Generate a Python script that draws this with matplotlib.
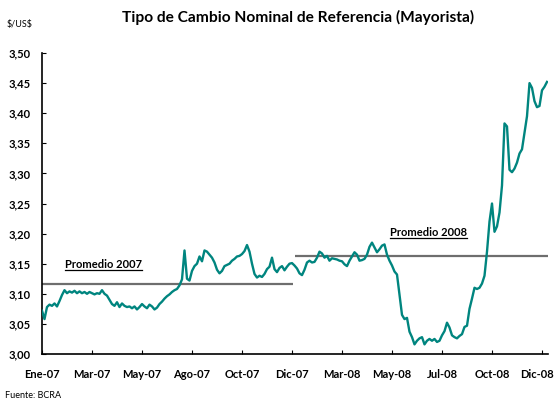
import matplotlib
matplotlib.use("Agg")
import matplotlib.pyplot as plt
import numpy as np
from matplotlib.lines import Line2D
from matplotlib.transforms import ScaledTranslation

plt.rcParams['font.family'] = ['Lato', 'DejaVu Sans']

# ---- data ----
tick_labels = ["Ene-07", "Mar-07", "May-07", "Ago-07", "Oct-07", "Dic-07",
               "Mar-08", "May-08", "Jul-08", "Oct-08", "Dic-08"]
points_per_tick = 20

rate = [
    # Ene-07 .. Mar-07
    3.072, 3.058, 3.078, 3.082, 3.080, 3.084, 3.079, 3.088, 3.098, 3.106,
    3.101, 3.104, 3.102, 3.105, 3.101, 3.104, 3.101, 3.103, 3.100, 3.103,
    # Mar-07 .. May-07
    3.101, 3.099, 3.101, 3.100, 3.106, 3.100, 3.097, 3.090, 3.083, 3.080,
    3.086, 3.078, 3.084, 3.080, 3.078, 3.079, 3.076, 3.079, 3.074, 3.078,
    # May-07 .. Ago-07
    3.083, 3.079, 3.076, 3.082, 3.079, 3.074, 3.077, 3.083, 3.087, 3.092,
    3.096, 3.099, 3.103, 3.106, 3.108, 3.114, 3.124, 3.172, 3.125, 3.122,
    # Ago-07 .. Oct-07
    3.138, 3.146, 3.150, 3.162, 3.154, 3.172, 3.170, 3.165, 3.160, 3.152,
    3.140, 3.134, 3.138, 3.146, 3.148, 3.150, 3.155, 3.158, 3.162, 3.163,
    # Oct-07 .. Dic-07
    3.166, 3.171, 3.181, 3.170, 3.150, 3.133, 3.127, 3.130, 3.128, 3.133,
    3.141, 3.145, 3.160, 3.141, 3.136, 3.143, 3.146, 3.139, 3.145, 3.150,
    # Dic-07 .. Mar-08
    3.151, 3.147, 3.142, 3.134, 3.131, 3.140, 3.152, 3.155, 3.152, 3.153,
    3.160, 3.170, 3.167, 3.160, 3.163, 3.155, 3.159, 3.158, 3.157, 3.155,
    # Mar-08 .. May-08
    3.154, 3.149, 3.146, 3.155, 3.162, 3.169, 3.165, 3.155, 3.156, 3.158,
    3.165, 3.178, 3.185, 3.177, 3.169, 3.174, 3.180, 3.182, 3.165, 3.155,
    # May-08 .. Jul-08
    3.147, 3.137, 3.132, 3.098, 3.065, 3.058, 3.060, 3.037, 3.028, 3.016,
    3.022, 3.026, 3.028, 3.016, 3.022, 3.025, 3.022, 3.025, 3.020, 3.022,
    # Jul-08 .. Oct-08
    3.031, 3.038, 3.052, 3.044, 3.031, 3.028, 3.026, 3.030, 3.033, 3.045,
    3.047, 3.075, 3.092, 3.110, 3.108, 3.110, 3.117, 3.130, 3.170, 3.220,
    # Oct-08 .. Dic-08
    3.250, 3.203, 3.212, 3.235, 3.280, 3.383, 3.378, 3.306, 3.302, 3.308,
    3.318, 3.333, 3.340, 3.368, 3.395, 3.450, 3.442, 3.420, 3.410, 3.412,
    # Dic-08 ..
    3.438, 3.444, 3.452,
]

avg_2007 = 3.116
avg_2008 = 3.162
avg_labels = ["Promedio 2007", "Promedio 2008"]

# ---- figure ----
W, H = 557, 401
fig = plt.figure(figsize=(W / 100, H / 100), dpi=100)
ax = fig.add_axes([42 / W, 1 - 354 / H, (548 - 42) / W, (354 - 53) / H])

x = np.arange(len(rate))
teal = "#00857F"
ax.plot(x, rate, color=teal, lw=1.7, solid_joinstyle="round", zorder=3)

split = 5 * points_per_tick
xmax = (548 - 42) / 2.5
ax.hlines(avg_2007, 0, split + 0.4, color="#6E6E6E", lw=1.6, zorder=2)
ax.hlines(avg_2008, split + 1.2, xmax, color="#6E6E6E", lw=1.6, zorder=2)

ax.set_xlim(0, xmax)
ax.set_ylim(3.0, 3.5)

yt = np.arange(3.0, 3.5001, 0.05)
ax.set_yticks(yt)
ax.set_yticklabels([f"{v:.2f}".replace(".", ",") for v in yt],
                   fontsize=8, fontweight="bold")
ax.set_xticks(np.arange(len(tick_labels)) * points_per_tick)
ax.set_xticklabels(tick_labels, fontsize=8, fontweight="bold")

ax.tick_params(axis="y", direction="in", length=3, width=0.8, pad=8)
ax.tick_params(axis="x", direction="in", length=3, width=0.8, pad=11)
for s in ["top", "right"]:
    ax.spines[s].set_visible(False)
for s in ["left", "bottom"]:
    ax.spines[s].set_linewidth(1.2)
    ax.spines[s].set_color("black")

# keep the last month label inside the canvas
last = ax.get_xticklabels()[-1]
last.set_transform(last.get_transform() +
                   ScaledTranslation(-5 / 100, 0, fig.dpi_scale_trans))

# average labels (bold, underlined)
t1 = ax.text(9.2, 3.148, avg_labels[0], fontsize=8, fontweight="bold",
             ha="left", va="center")
t2 = ax.text(139.2, 3.201, avg_labels[1], fontsize=8, fontweight="bold",
             ha="left", va="center")

fig.text(298 / W, 1 - 17 / H, "Tipo de Cambio Nominal de Referencia (Mayorista)",
         ha="center", va="center", fontsize=11.2, fontweight="bold")
fig.text(7 / W, 1 - 25 / H, r"\$/US\$", ha="left", va="center", fontsize=6.5)
fig.text(5 / W, 1 - 396 / H, "Fuente: BCRA", ha="left", va="center", fontsize=6.5)

fig.canvas.draw()
r = fig.canvas.get_renderer()
for t in (t1, t2):
    bb = t.get_window_extent(renderer=r)
    yline = (bb.y0 + 0.5) / fig.bbox.height
    fig.add_artist(Line2D([bb.x0 / fig.bbox.width, bb.x1 / fig.bbox.width],
                          [yline, yline], color="black", lw=0.9))

fig.savefig("out.png", dpi=100)
